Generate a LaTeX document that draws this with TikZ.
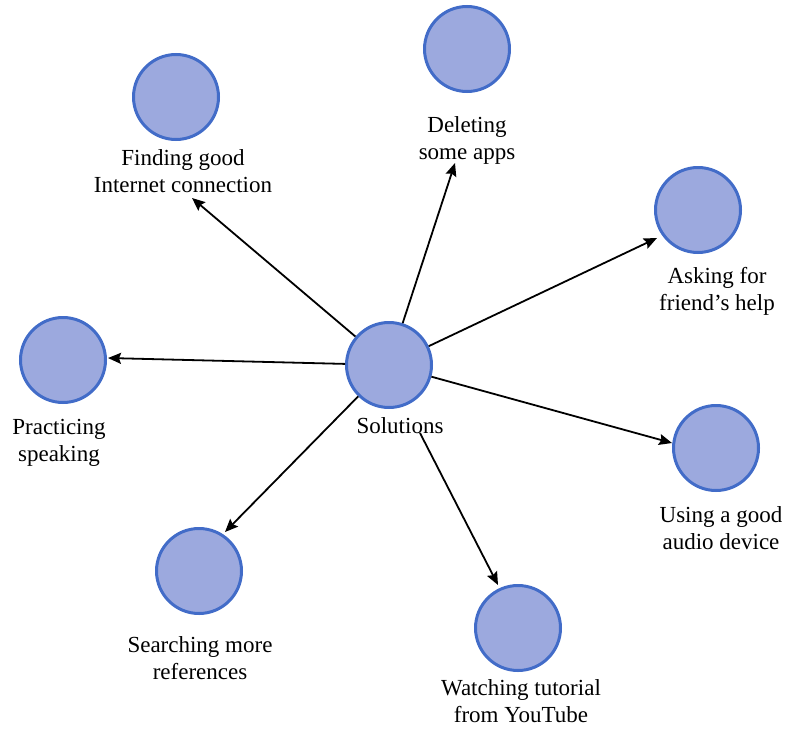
\documentclass[tikz,border=0pt]{standalone}
\usepackage{fontspec}
\setmainfont{Liberation Serif}
\usetikzlibrary{arrows.meta}
\definecolor{cfill}{RGB}{156,169,222}
\definecolor{cedge}{RGB}{66,108,200}
\tikzset{
  bubble/.style={circle, fill=cfill, draw=cedge, line width=3pt, minimum size=85pt, inner sep=0pt},
  lbl/.style={align=center, inner sep=0pt, font=\fontsize{23}{27}\selectfont},
  conn/.style={line width=1.8pt, -{Stealth[length=13pt,width=11pt,inset=2pt]}}
}
\begin{document}
\begin{tikzpicture}[x=1pt,y=-1pt]
\useasboundingbox (0,0) rectangle (786,728);
% circles
\node[bubble] (sol)   at (389,365) {};
\node[bubble] (find)  at (176,97)  {};
\node[bubble] (del)   at (467,49)  {};
\node[bubble] (ask)   at (698,210) {};
\node[bubble] (prac)  at (63,360)  {};
\node[bubble] (use)   at (716,448) {};
\node[bubble] (srch)  at (199,571) {};
\node[bubble] (watch) at (518,628) {};
% labels
\node[lbl, anchor=base] (lsol) at (400,433) {Solutions};
\node[lbl] (lfind)  at (183,171) {Finding good\\Internet connection};
\node[lbl] (ldel)   at (467,140) {Deleting\\some apps};
\node[lbl] (lask)   at (717,291) {Asking for\\friend’s help};
\node[lbl] (lprac)  at (59,443)  {Practicing\\speaking};
\node[lbl] (luse)   at (721,528) {Using a good\\audio device};
\node[lbl] (lsrch)  at (200,658) {Searching more\\references};
\node[lbl] (lwatch) at (521,701) {Watching tutorial\\from YouTube};
% arrow ends
\coordinate (tfind)  at (192,198);
\coordinate (tdel)   at (455,163);
\coordinate (task)   at (657,238);
\coordinate (tprac)  at (108,358);
\coordinate (tuse)   at (672,443);
\coordinate (tsrch)  at (225,532);
\coordinate (swatch) at (420,433);
\coordinate (twatch) at (498,585);
% connectors
\draw[conn] (sol) -- (tfind);
\draw[conn] (sol) -- (tdel);
\draw[conn] (sol) -- (task);
\draw[conn] (sol) -- (tprac);
\draw[conn] (sol) -- (tuse);
\draw[conn] (sol) -- (tsrch);
\draw[conn] (swatch) -- (twatch);
\end{tikzpicture}
\end{document}
